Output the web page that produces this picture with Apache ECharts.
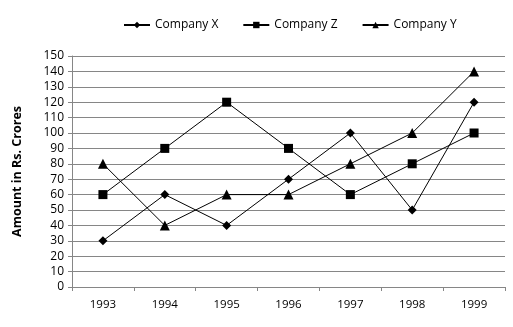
<!DOCTYPE html>
<html><head><meta charset="utf-8">
<script src="https://cdn.jsdelivr.net/npm/echarts@6/dist/echarts.min.js"></script>
<style>html,body{margin:0;padding:0;background:#fff}#c{width:513px;height:327px}</style>
</head><body><div id="c"></div>
<script>
const categories = ['1993','1994','1995','1996','1997','1998','1999'];
const companyX = [30, 60, 40, 70, 100, 50, 120];
const companyZ = [60, 90, 120, 90, 60, 80, 100];
const companyY = [80, 40, 60, 60, 80, 100, 140];

const font = 'Open Sans, Liberation Sans, sans-serif';
const chart = echarts.init(document.getElementById('c'));
function s(name, data, symbol, size){
  return {name, type:'line', data, symbol, symbolSize:size, showAllSymbol:true,
    lineStyle:{color:'#000', width:1}, itemStyle:{color:'#000'}, emphasis:{disabled:true}, animation:false};
}
chart.setOption({
  animation:false,
  legend:{top:14, left:118, itemWidth:26, itemHeight:8, itemGap:24,
    textStyle:{fontFamily:font, fontSize:12, color:'#000'},
    data:['Company X','Company Z','Company Y']},
  grid:{left:72, right:8, top:56, bottom:40},
  xAxis:{type:'category', data:categories, boundaryGap:true,
    axisLine:{lineStyle:{color:'#868686'}}, axisTick:{show:true, length:4, lineStyle:{color:'#868686'}},
    axisLabel:{fontFamily:font, fontSize:11.5, color:'#000', margin:12}},
  yAxis:{type:'value', min:0, max:150, interval:10,
    name:'Amount in Rs. Crores', nameLocation:'middle', nameGap:48,
    nameTextStyle:{fontFamily:font, fontSize:12.5, fontWeight:'bold', color:'#000'},
    axisLine:{show:true, lineStyle:{color:'#868686'}}, axisTick:{show:true, length:4, lineStyle:{color:'#868686'}},
    splitLine:{lineStyle:{color:'#868686', width:1}},
    axisLabel:{fontFamily:font, fontSize:12, color:'#000', margin:8}},
  series:[
    s('Company X', companyX, 'diamond', 9),
    s('Company Z', companyZ, 'rect', 9),
    s('Company Y', companyY, 'triangle', 10)
  ]
});
</script></body></html>
